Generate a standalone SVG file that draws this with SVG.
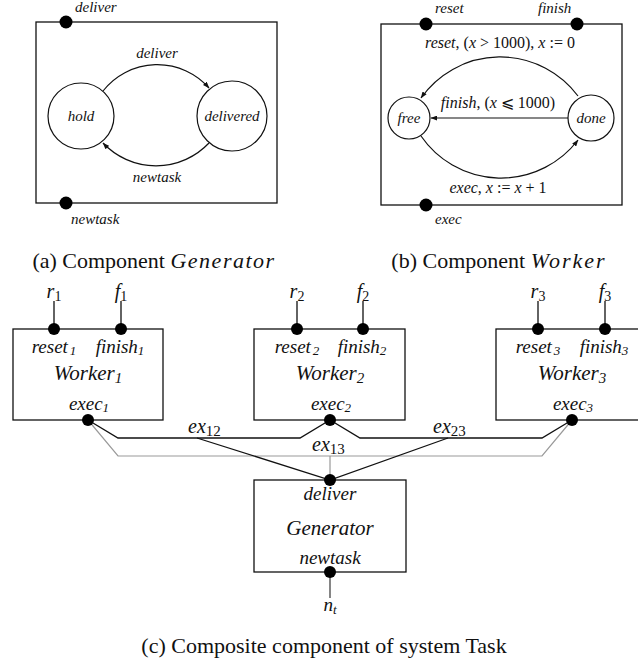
<svg xmlns="http://www.w3.org/2000/svg" width="638" height="670" viewBox="0 0 638 670" font-family="'Liberation Serif', 'Times New Roman', Times, 'Noto Serif', 'DejaVu Serif', serif">
<style>
text{font-family:"Liberation Serif","Times New Roman",Times,"Noto Serif","DejaVu Serif",serif;fill:#111}
.it{font-style:italic}
.box{fill:none;stroke:#111;stroke-width:1.3}
.st{fill:none;stroke:#111;stroke-width:1.2}
.dot{fill:#000}
.ln{fill:none;stroke:#111;stroke-width:1.3}
.gr{fill:none;stroke:#999;stroke-width:1.2}
.s15{font-size:15px}
.s16{font-size:16px}
.port{font-size:19px;font-style:italic}
.name{font-size:21px;font-style:italic}
.cap{font-size:22px}
</style>
<defs>
<marker id="ah" viewBox="0 0 8 6" refX="7.5" refY="3" markerWidth="7" markerHeight="5" markerUnits="userSpaceOnUse" orient="auto">
<path d="M0,0 L8,3 L0,6 z" fill="#111"/>
</marker>
</defs>

<!-- (a) Component Generator -->
<g id="gen-component">
<rect class="box" x="36" y="22" width="241" height="181"/>
<circle class="dot" cx="66" cy="22" r="6.5"/>
<circle class="dot" cx="66" cy="203" r="6.5"/>
<text class="it s15" x="75" y="12">deliver</text>
<text class="it s15" x="71" y="224">newtask</text>
</g>
<g id="state-hold">
<circle class="st" cx="81" cy="116" r="33"/>
<text class="it s15" x="81" y="121" text-anchor="middle">hold</text>
</g>
<g id="state-delivered">
<circle class="st" cx="232" cy="116" r="35"/>
<text class="it s15" x="232" y="121" text-anchor="middle">delivered</text>
</g>
<g id="gen-transitions">
<path class="st" d="M103,91 A69,69 0 0 1 209,88" marker-end="url(#ah)"/>
<path class="st" d="M209,143 A73,73 0 0 1 103,143" marker-end="url(#ah)"/>
<text class="it s15" x="157" y="58" text-anchor="middle">deliver</text>
<text class="it s15" x="157" y="182" text-anchor="middle">newtask</text>
</g>

<!-- (b) Component Worker -->
<g id="worker-component">
<rect class="box" x="381" y="24" width="241" height="181"/>
<circle class="dot" cx="426" cy="24" r="6.5"/>
<circle class="dot" cx="577" cy="24" r="6.5"/>
<circle class="dot" cx="426" cy="205" r="6.5"/>
<text class="it s15" x="435" y="13">reset</text>
<text class="it s15" x="538" y="13">finish</text>
<text class="it s15" x="435" y="224">exec</text>
</g>
<g id="state-free">
<circle class="st" cx="409" cy="118" r="21"/>
<text class="it s15" x="409" y="123" text-anchor="middle">free</text>
</g>
<g id="state-done">
<circle class="st" cx="591" cy="118" r="23"/>
<text class="it s15" x="591" y="123" text-anchor="middle">done</text>
</g>
<g id="worker-transitions">
<path class="st" d="M578,96 A97,97 0 0 0 421,98" marker-end="url(#ah)"/>
<path class="st" d="M568,118 L431,118" marker-end="url(#ah)"/>
<path class="st" d="M421,136 A97,97 0 0 0 578,140" marker-end="url(#ah)"/>
<text class="s16" x="500" y="48" text-anchor="middle"><tspan class="it">reset</tspan>, (<tspan class="it">x</tspan> &gt; 1000), <tspan class="it">x</tspan> := 0</text>
<text class="s16" x="498" y="108" text-anchor="middle"><tspan class="it">finish</tspan>, (<tspan class="it">x</tspan> ⩽ 1000)</text>
<text class="s16" x="498" y="193" text-anchor="middle"><tspan class="it">exec</tspan>, <tspan class="it">x</tspan> := <tspan class="it">x</tspan> + 1</text>
</g>

<!-- captions -->
<text class="cap" x="154" y="268" text-anchor="middle">(a) Component <tspan class="it" letter-spacing="1.5">Generator</tspan></text>
<text class="cap" x="499" y="268" text-anchor="middle">(b) Component <tspan class="it" letter-spacing="2">Worker</tspan></text>
<text class="cap" x="324" y="653" text-anchor="middle">(c) Composite component of system Task</text>

<!-- (c) Composite: connectors -->
<g id="connectors">
<path class="gr" d="M88,420 L118,456 L542,456 L572,420"/>
<path class="gr" d="M330,456 L330,480"/>
<path class="ln" d="M88,420 L118,438 L300,438 L330,420 L360,438 L542,438 L572,420"/>
<path class="ln" d="M197,438 L330,480 L448,438"/>
<path class="ln" d="M54,329 L54,301 M121,329 L121,301"/>
<path class="ln" d="M297,329 L297,301 M363,329 L363,301"/>
<path class="ln" d="M538,329 L538,301 M605,329 L605,301"/>
<path class="ln" d="M330,572 L330,598" style="stroke:#444"/>
<text class="it" x="188" y="433" font-size="20">ex<tspan font-style="normal" font-size="15" dy="3">12</tspan></text>
<text class="it" x="312" y="451" font-size="20">ex<tspan font-style="normal" font-size="15" dy="3">13</tspan></text>
<text class="it" x="433" y="433" font-size="20">ex<tspan font-style="normal" font-size="15" dy="3">23</tspan></text>
<text class="it" x="54" y="298" font-size="20" text-anchor="middle">r<tspan font-style="normal" font-size="14" dy="3">1</tspan></text>
<text class="it" x="121" y="298" font-size="20" text-anchor="middle">f<tspan font-style="normal" font-size="14" dy="3">1</tspan></text>
<text class="it" x="297" y="298" font-size="20" text-anchor="middle">r<tspan font-style="normal" font-size="14" dy="3">2</tspan></text>
<text class="it" x="363" y="298" font-size="20" text-anchor="middle">f<tspan font-style="normal" font-size="14" dy="3">2</tspan></text>
<text class="it" x="538" y="298" font-size="20" text-anchor="middle">r<tspan font-style="normal" font-size="14" dy="3">3</tspan></text>
<text class="it" x="605" y="298" font-size="20" text-anchor="middle">f<tspan font-style="normal" font-size="14" dy="3">3</tspan></text>
<text class="it" x="330" y="611" font-size="19" text-anchor="middle">n<tspan font-size="13" dy="3">t</tspan></text>
</g>

<g id="worker1">
<rect class="box" x="13" y="329" width="150" height="91"/>
<circle class="dot" cx="54" cy="329" r="6"/>
<circle class="dot" cx="121" cy="329" r="6"/>
<circle class="dot" cx="88" cy="420" r="6"/>
<text class="port" x="54" y="353" text-anchor="middle">reset<tspan font-size="13" dx="2" dy="2">1</tspan></text>
<text class="port" x="120" y="353" text-anchor="middle">finish<tspan font-size="13" dy="2">1</tspan></text>
<text class="name" x="88" y="380" text-anchor="middle">Worker<tspan font-size="15" dy="3">1</tspan></text>
<text class="port" x="89" y="410" text-anchor="middle">exec<tspan font-size="13" dy="2">1</tspan></text>
</g>
<g id="worker2">
<rect class="box" x="254" y="329" width="151" height="91"/>
<circle class="dot" cx="297" cy="329" r="6"/>
<circle class="dot" cx="363" cy="329" r="6"/>
<circle class="dot" cx="330" cy="420" r="6"/>
<text class="port" x="297" y="353" text-anchor="middle">reset<tspan font-size="13" dx="2" dy="2">2</tspan></text>
<text class="port" x="362" y="353" text-anchor="middle">finish<tspan font-size="13" dy="2">2</tspan></text>
<text class="name" x="330" y="380" text-anchor="middle">Worker<tspan font-size="15" dy="3">2</tspan></text>
<text class="port" x="331" y="410" text-anchor="middle">exec<tspan font-size="13" dy="2">2</tspan></text>
</g>
<g id="worker3">
<rect class="box" x="496" y="329" width="151" height="91"/>
<circle class="dot" cx="538" cy="329" r="6"/>
<circle class="dot" cx="605" cy="329" r="6"/>
<circle class="dot" cx="572" cy="420" r="6"/>
<text class="port" x="538" y="353" text-anchor="middle">reset<tspan font-size="13" dx="2" dy="2">3</tspan></text>
<text class="port" x="604" y="353" text-anchor="middle">finish<tspan font-size="13" dy="2">3</tspan></text>
<text class="name" x="572" y="380" text-anchor="middle">Worker<tspan font-size="15" dy="3">3</tspan></text>
<text class="port" x="573" y="410" text-anchor="middle">exec<tspan font-size="13" dy="2">3</tspan></text>
</g>
<g id="generator">
<rect class="box" x="254" y="480" width="152" height="92"/>
<circle class="dot" cx="330" cy="480" r="6"/>
<circle class="dot" cx="330" cy="572" r="6"/>
<text class="port" x="330" y="500" text-anchor="middle">deliver</text>
<text class="name" x="330" y="535" text-anchor="middle">Generator</text>
<text class="port" x="330" y="564" text-anchor="middle">newtask</text>
</g>
</svg>
